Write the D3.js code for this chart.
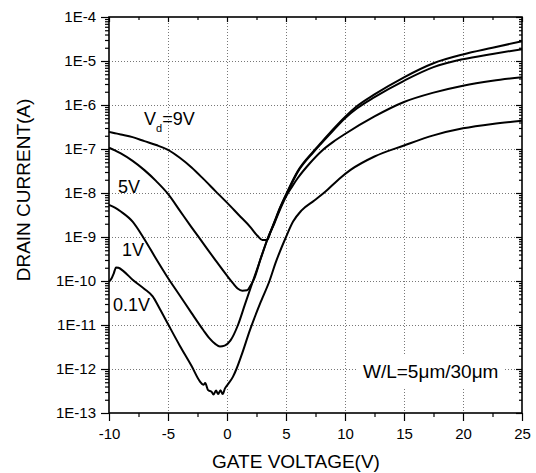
<!DOCTYPE html>
<html>
<head>
<meta charset="utf-8">
<script src="https://cdn.jsdelivr.net/npm/d3@7"></script>
<style>
  html, body { margin: 0; padding: 0; background: #fff; }
  svg { display: block; font-family: "Liberation Sans", Arial, sans-serif; }
</style>
</head>
<body>
<svg id="chart" width="536" height="473"></svg>
<script>
// ---- data (gate voltage in V, drain current in A) ----
const xTicks = [-10, -5, 0, 5, 10, 15, 20, 25];
const yTicks = [1e-13, 1e-12, 1e-11, 1e-10, 1e-9, 1e-8, 1e-7, 1e-6, 1e-5, 1e-4];

const vg9 = [-10, -9.5, -9, -8, -7, -6, -5, -4, -3, -2, -1, 0, 1, 2, 2.6, 3.0, 3.4, 3.7, 4.0, 4.5, 5.06, 6, 7.3, 8, 9, 10, 11, 12.5, 15, 17.5, 20, 22.5, 25];
const id9 = [2.45e-7, 2.29e-7, 2.14e-7, 1.86e-7, 1.51e-7, 1.23e-7, 9.55e-8, 6.31e-8, 3.80e-8, 2.09e-8, 1.12e-8, 6.03e-9, 3.16e-9, 1.66e-9, 1.05e-9, 8.51e-10, 8.51e-10, 1.32e-9, 2.14e-9, 4.68e-9, 1.0e-8, 3.16e-8, 8.71e-8, 1.41e-7, 2.82e-7, 5.37e-7, 9.33e-7, 1.74e-6, 4.27e-6, 8.91e-6, 1.41e-5, 2.0e-5, 2.82e-5];

const vg5 = [-10, -9.5, -9, -8, -7, -6, -5, -4, -3, -2, -1, 0, 0.5, 0.9, 1.3, 1.7, 2.0, 2.3, 2.9, 3.5, 4.0, 4.5, 5.06, 6, 7.3, 8, 9, 10, 11, 12.5, 15, 17.5, 20, 22.5, 25];
const id5 = [1.07e-7, 9.33e-8, 7.94e-8, 5.37e-8, 3.31e-8, 1.86e-8, 9.55e-9, 3.98e-9, 1.66e-9, 7.08e-10, 3.02e-10, 1.32e-10, 8.91e-11, 6.76e-11, 6.03e-11, 6.17e-11, 7.94e-11, 1.12e-10, 3.55e-10, 1.0e-9, 2.09e-9, 4.57e-9, 9.55e-9, 3.02e-8, 8.32e-8, 1.35e-7, 2.63e-7, 5.01e-7, 8.32e-7, 1.51e-6, 3.55e-6, 7.24e-6, 1.10e-5, 1.45e-5, 1.86e-5];

const vg1 = [-10, -9.5, -9, -8, -7, -6, -5, -4, -3, -2, -1.5, -1, -0.6, -0.2, 0.3, 0.93, 1.5, 2.2, 2.9, 3.5, 4.0, 4.5, 5.06, 5.5, 6, 7, 8, 9, 10, 12.5, 15, 17.5, 20, 22.5, 25];
const id1 = [5.37e-9, 4.68e-9, 3.80e-9, 2.24e-9, 8.91e-10, 3.16e-10, 1.17e-10, 4.68e-11, 1.86e-11, 7.59e-12, 5.01e-12, 3.72e-12, 3.24e-12, 3.39e-12, 4.47e-12, 1.0e-11, 2.82e-11, 1.0e-10, 3.47e-10, 1.0e-9, 2.0e-9, 4.27e-9, 8.91e-9, 1.38e-8, 2.19e-8, 4.68e-8, 8.91e-8, 1.45e-7, 2.19e-7, 5.50e-7, 1.17e-6, 1.91e-6, 2.75e-6, 3.55e-6, 4.27e-6];

const vg01 = [-10, -9.8, -9.6, -9.4, -9.2, -8.8, -8, -7, -6.3, -5.7, -5, -4, -3, -2.3, -2.0, -1.85, -1.6, -1.3, -1.15, -0.93, -0.75, -0.55, -0.37, -0.17, 0.1, 0.5, 0.8, 1.24, 1.95, 2.9, 3.6, 4.1, 5.0, 5.6, 6.3, 7.4, 8.3, 9.5, 10.5, 12.5, 15, 17.5, 20, 22.5, 25];
const id01 = [9.55e-11, 1.12e-10, 1.48e-10, 2.04e-10, 2.0e-10, 1.70e-10, 1.07e-10, 6.61e-11, 4.47e-11, 2.34e-11, 1.05e-11, 3.39e-12, 1.17e-12, 5.25e-13, 4.37e-13, 4.79e-13, 3.31e-13, 3.02e-13, 2.63e-13, 3.24e-13, 2.69e-13, 3.31e-13, 2.69e-13, 3.63e-13, 4.57e-13, 6.61e-13, 1.0e-12, 2.09e-12, 7.76e-12, 3.55e-11, 1.0e-10, 2.51e-10, 1.0e-9, 2.24e-9, 3.98e-9, 6.76e-9, 1.05e-8, 2.09e-8, 3.39e-8, 6.76e-8, 1.20e-7, 2.04e-7, 2.95e-7, 3.72e-7, 4.37e-7];

const seriesNames = ["9V", "5V", "1V", "0.1V"];
const seriesX = [vg9, vg5, vg1, vg01];
const seriesY = [id9, id5, id1, id01];

// ---- layout ----
const L = 109, R = 522, T = 17, B = 413;
const svg = d3.select("#chart");
const x = d3.scaleLinear().domain([-10, 25]).range([L, R]);
const y = d3.scaleLog().domain([1e-13, 1e-4]).range([B, T]);

const xMinor = [];
for (let v = -7.5; v < 25; v += 5) xMinor.push(v);
const yMinor = [];
for (let e = -13; e < -4; e++) for (let k = 2; k <= 9; k++) yMinor.push(k * Math.pow(10, e));

// grid
const grid = svg.append("g").attr("stroke", "#777").attr("stroke-width", 1).attr("stroke-dasharray", "1,2");
grid.selectAll("line.gx").data(xTicks.slice(1, -1)).join("line")
  .attr("x1", d => Math.round(x(d)) + 0.5).attr("x2", d => Math.round(x(d)) + 0.5)
  .attr("y1", T).attr("y2", B);
grid.selectAll("line.gy").data(yTicks.slice(1, -1)).join("line")
  .attr("y1", d => Math.round(y(d)) + 0.5).attr("y2", d => Math.round(y(d)) + 0.5)
  .attr("x1", L).attr("x2", R);

function clean(g) { g.select(".domain").remove(); g.selectAll("line").attr("stroke-width", 1.2); }

// bottom axis
svg.append("g").attr("transform", `translate(0,${B})`)
  .call(d3.axisBottom(x).tickValues(xTicks).tickSize(8).tickPadding(7).tickSizeOuter(0).tickFormat(d => String(d)))
  .call(clean)
  .call(g => g.selectAll("text").attr("font-size", 15).attr("font-family", "Liberation Sans, Arial, sans-serif").attr("fill", "#000"));
svg.append("g").attr("transform", `translate(0,${B})`)
  .call(d3.axisBottom(x).tickValues(xMinor).tickSize(4).tickFormat("").tickSizeOuter(0)).call(clean);

// top axis (inward)
svg.append("g").attr("transform", `translate(0,${T})`)
  .call(d3.axisBottom(x).tickValues(xTicks).tickSize(5).tickFormat("").tickSizeOuter(0)).call(clean);
svg.append("g").attr("transform", `translate(0,${T})`)
  .call(d3.axisBottom(x).tickValues(xMinor).tickSize(3).tickFormat("").tickSizeOuter(0)).call(clean);

// left axis
svg.append("g").attr("transform", `translate(${L},0)`)
  .call(d3.axisLeft(y).tickValues(yTicks).tickSize(8).tickPadding(5).tickSizeOuter(0)
    .tickFormat(d => "1E" + Math.round(Math.log10(d))))
  .call(clean)
  .call(g => g.selectAll("text").attr("font-size", 15).attr("font-family", "Liberation Sans, Arial, sans-serif").attr("fill", "#000"));
svg.append("g").attr("transform", `translate(${L},0)`)
  .call(d3.axisLeft(y).tickValues(yMinor).tickSize(4).tickFormat("").tickSizeOuter(0)).call(clean);

// right axis (inward)
svg.append("g").attr("transform", `translate(${R},0)`)
  .call(d3.axisLeft(y).tickValues(yTicks).tickSize(6).tickFormat("").tickSizeOuter(0)).call(clean);
svg.append("g").attr("transform", `translate(${R},0)`)
  .call(d3.axisLeft(y).tickValues(yMinor).tickSize(3).tickFormat("").tickSizeOuter(0)).call(clean);

// frame
svg.append("rect").attr("x", L).attr("y", T).attr("width", R - L).attr("height", B - T)
  .attr("fill", "none").attr("stroke", "#000").attr("stroke-width", 1.6);

// curves
const line = d3.line().x(d => x(d[0])).y(d => y(d[1])).curve(d3.curveMonotoneX);
seriesNames.forEach((name, i) => {
  const pts = seriesX[i].map((v, j) => [v, seriesY[i][j]]);
  svg.append("path").datum(pts).attr("d", line)
    .attr("fill", "none").attr("stroke", "#000").attr("stroke-width", 2).attr("stroke-linejoin", "round");
});

// annotations
const font = "Liberation Sans, Arial, sans-serif";
const vd = svg.append("text").attr("x", 144).attr("y", 125).attr("font-size", 18).attr("font-family", font);
vd.append("tspan").text("V");
vd.append("tspan").attr("dy", 7).attr("font-size", 11).text("d");
vd.append("tspan").attr("dy", -7).text("=9V");

svg.append("text").attr("x", 118).attr("y", 193).attr("font-size", 18).attr("font-family", font).text("5V");
svg.append("text").attr("x", 122).attr("y", 256).attr("font-size", 18).attr("font-family", font).text("1V");
svg.append("text").attr("x", 113).attr("y", 311).attr("font-size", 18).attr("font-family", font).text("0.1V");

svg.append("rect").attr("x", 358).attr("y", 354).attr("width", 146).attr("height", 35).attr("fill", "#fff");
svg.append("text").attr("x", 363).attr("y", 378).attr("font-size", 19).attr("font-family", font).text("W/L=5\u03BCm/30\u03BCm");

// axis titles
svg.append("text").attr("x", 296).attr("y", 468).attr("text-anchor", "middle")
  .attr("font-size", 19).attr("font-family", font).text("GATE VOLTAGE(V)");
svg.append("text").attr("transform", "translate(30,190) rotate(-90)").attr("text-anchor", "middle")
  .attr("font-size", 19).attr("font-family", font).text("DRAIN CURRENT(A)");
</script>
</body>
</html>
